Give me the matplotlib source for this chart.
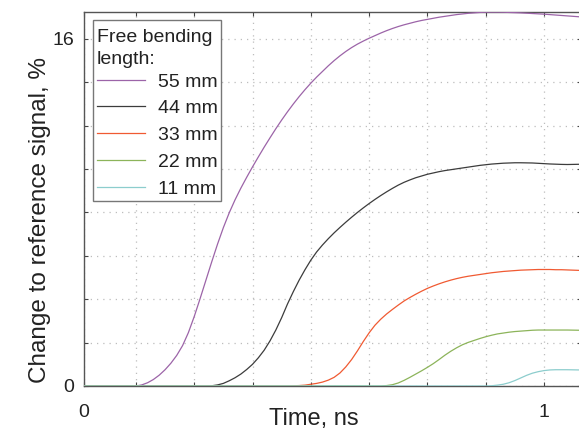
import matplotlib
matplotlib.use("Agg")
import matplotlib.pyplot as plt
from matplotlib.offsetbox import VPacker, DrawingArea

plt.rcParams['font.family'] = ['Liberation Sans', 'DejaVu Sans']

# ---------------- data ----------------
time_ns = [
    0.0000, 0.0125, 0.0250, 0.0375, 0.0500, 0.0625, 0.0750, 0.0875, 0.1000, 0.1125,
    0.1250, 0.1375, 0.1500, 0.1625, 0.1750, 0.1875, 0.2000, 0.2125, 0.2250, 0.2375,
    0.2500, 0.2625, 0.2750, 0.2875, 0.3000, 0.3125, 0.3250, 0.3375, 0.3500, 0.3625,
    0.3750, 0.3875, 0.4000, 0.4125, 0.4250, 0.4375, 0.4500, 0.4625, 0.4750, 0.4875,
    0.5000, 0.5125, 0.5250, 0.5375, 0.5500, 0.5625, 0.5750, 0.5875, 0.6000, 0.6125,
    0.6250, 0.6375, 0.6500, 0.6625, 0.6750, 0.6875, 0.7000, 0.7125, 0.7250, 0.7375,
    0.7500, 0.7625, 0.7750, 0.7875, 0.8000, 0.8125, 0.8250, 0.8375, 0.8500, 0.8625,
    0.8750, 0.8875, 0.9000, 0.9125, 0.9250, 0.9375, 0.9500, 0.9625, 0.9750, 0.9875,
    1.0000, 1.0125, 1.0250, 1.0375, 1.0500, 1.0625, 1.0750]

len_55 = [
    0, 0, 0, 0, 0, 0, 0, 0, 0, 0,
    0, 0.05, 0.15, 0.30, 0.50, 0.75, 1.05, 1.41, 1.86, 2.46,
    3.20, 4.02, 4.87, 5.72, 6.54, 7.30, 7.98, 8.58, 9.12, 9.62,
    10.10, 10.56, 11.01, 11.44, 11.86, 12.26, 12.64, 13.0, 13.34, 13.66,
    13.96, 14.24, 14.5, 14.76, 15.0, 15.22, 15.42, 15.6, 15.76, 15.9,
    16.03, 16.15, 16.27, 16.38, 16.48, 16.57, 16.65, 16.72, 16.79, 16.85,
    16.9, 16.95, 17.0, 17.04, 17.08, 17.12, 17.15, 17.18, 17.2, 17.22,
    17.23, 17.235, 17.235, 17.23, 17.22, 17.21, 17.2, 17.185, 17.17, 17.155,
    17.14, 17.12, 17.1, 17.08, 17.06, 17.04, 17.02]

len_44 = [
    0, 0, 0, 0, 0, 0, 0, 0, 0, 0,
    0, 0, 0, 0, 0, 0, 0, 0, 0, 0,
    0, 0, 0, 0.01, 0.05, 0.12, 0.24, 0.38, 0.55, 0.76,
    1.0, 1.3, 1.65, 2.08, 2.58, 3.15, 3.78, 4.35, 4.88, 5.36,
    5.8, 6.18, 6.5, 6.79, 7.06, 7.31, 7.55, 7.78, 8.0, 8.21,
    8.41, 8.6, 8.78, 8.95, 9.11, 9.26, 9.39, 9.5, 9.6, 9.68,
    9.76, 9.82, 9.88, 9.93, 9.97, 10.01, 10.05, 10.09, 10.13, 10.17,
    10.2, 10.23, 10.25, 10.27, 10.28, 10.29, 10.29, 10.285, 10.28, 10.265,
    10.25, 10.235, 10.225, 10.215, 10.21, 10.215, 10.22]

len_33 = [
    0, 0, 0, 0, 0, 0, 0, 0, 0, 0,
    0, 0, 0, 0, 0, 0, 0, 0, 0, 0,
    0, 0, 0, 0, 0, 0, 0, 0, 0, 0,
    0, 0, 0, 0, 0, 0, 0, 0.01, 0.02, 0.04,
    0.08, 0.12, 0.18, 0.27, 0.4, 0.6, 0.88, 1.22, 1.62, 2.05,
    2.45, 2.8, 3.08, 3.32, 3.53, 3.73, 3.92, 4.08, 4.23, 4.37,
    4.5, 4.61, 4.71, 4.8, 4.88, 4.95, 5.01, 5.06, 5.1, 5.14,
    5.18, 5.22, 5.25, 5.28, 5.3, 5.32, 5.34, 5.35, 5.36, 5.37,
    5.37, 5.37, 5.36, 5.36, 5.35, 5.34, 5.33]

len_22 = [
    0, 0, 0, 0, 0, 0, 0, 0, 0, 0,
    0, 0, 0, 0, 0, 0, 0, 0, 0, 0,
    0, 0, 0, 0, 0, 0, 0, 0, 0, 0,
    0, 0, 0, 0, 0, 0, 0, 0, 0, 0,
    0, 0, 0, 0, 0, 0, 0, 0, 0, 0,
    0, 0, 0, 0.02, 0.06, 0.14, 0.26, 0.4, 0.55, 0.7,
    0.86, 1.03, 1.22, 1.42, 1.6, 1.76, 1.9, 2.01, 2.1, 2.19,
    2.27, 2.34, 2.4, 2.44, 2.48, 2.51, 2.53, 2.55, 2.57, 2.58,
    2.58, 2.58, 2.58, 2.58, 2.58, 2.575, 2.57]

len_11 = [
    0, 0, 0, 0, 0, 0, 0, 0, 0, 0,
    0, 0, 0, 0, 0, 0, 0, 0, 0, 0,
    0, 0, 0, 0, 0, 0, 0, 0, 0, 0,
    0, 0, 0, 0, 0, 0, 0, 0, 0, 0,
    0, 0, 0, 0, 0, 0, 0, 0, 0, 0,
    0, 0, 0, 0, 0, 0, 0, 0, 0, 0,
    0, 0, 0, 0, 0, 0, 0, 0, 0, 0,
    0, 0.01, 0.04, 0.08, 0.15, 0.25, 0.37, 0.49, 0.59, 0.66,
    0.71, 0.74, 0.75, 0.75, 0.75, 0.745, 0.74]

series_labels = ["55 mm", "44 mm", "33 mm", "22 mm", "11 mm"]
series_values = [len_55, len_44, len_33, len_22, len_11]
series_colors = ["#9c64a8", "#3c3c3c", "#f05a32", "#8cb45a", "#8ccdcd"]

x_ticks = [0.125, 0.25, 0.375, 0.5, 0.625, 0.75, 0.875, 1.0]
y_ticks = [0, 2, 4, 6, 8, 10, 12, 14, 16]

# ---------------- figure ----------------
W, H = 579, 430
fig = plt.figure(figsize=(W / 100, H / 100), dpi=100)
ax = fig.add_axes([84 / W, 44 / H, (581 - 84) / W, 374 / H])

for vals, lab, col in zip(series_values, series_labels, series_colors):
    ax.plot(time_ns, vals, color=col, lw=0.9, label=lab, zorder=3)

xmin, xmax = 0.0137, 1.0793
ax.set_xlim(xmin, xmax)
ax.set_ylim(0, 17.24)

ax.set_xticks([xmin] + x_ticks)
ax.set_xticklabels(["0"] + ["" for _ in x_ticks[:-1]] + ["1"])
ax.set_yticks(y_ticks)
ax.set_yticklabels(["0"] + ["" for _ in y_ticks[1:-1]] + ["16"])

ax.tick_params(axis='both', direction='in', length=3, width=0.8,
               color='#444444', labelsize=14, labelcolor='#222222',
               top=True, right=True)
ax.tick_params(axis='x', pad=13)
ax.tick_params(axis='y', pad=7)

ax.grid(True, color='#bdbdbd', linestyle=(0, (1, 4)), linewidth=0.9)
ax.set_axisbelow(True)

for sp in ax.spines.values():
    sp.set_color('#555555')
    sp.set_linewidth(1.0)

ax.set_xlabel("Time, ns", fontsize=17, color='#222222')
ax.xaxis.set_label_coords((313.4 - 84) / 497, (386 - 408) / 374)
ax.set_ylabel("Change to reference signal, %", fontsize=17.5, color='#222222')
ax.yaxis.set_label_coords((51 - 84) / 497, (386 - 220) / 374)

leg = ax.legend(loc='upper left', bbox_to_anchor=((93.3 - 84) / 497, (386 - 20) / 374),
                borderaxespad=0, fontsize=14, title="Free bending\nlength:",
                title_fontsize=14, alignment='left', frameon=True, fancybox=False,
                handlelength=2.5, handletextpad=0.66, labelspacing=0.47,
                borderpad=0.17)
leg.get_frame().set_edgecolor('#777777')
leg.get_frame().set_linewidth(1.0)
leg.get_frame().set_facecolor('white')
leg.get_frame().set_alpha(1.0)
leg.get_title().set_color('#222222')
leg.get_title().set_linespacing(1.4)
for txt in leg.get_texts():
    txt.set_color('#222222')
try:
    spacer = DrawingArea(1, 4.0)
    title_pack = VPacker(children=[spacer, leg._legend_title_box], pad=0, sep=0, align='left')
    title_pack.set_figure(fig)
    leg._legend_box._children[0] = title_pack
    leg._legend_box.sep = 3.5
except Exception:
    pass

fig.savefig("out.png", dpi=100)
